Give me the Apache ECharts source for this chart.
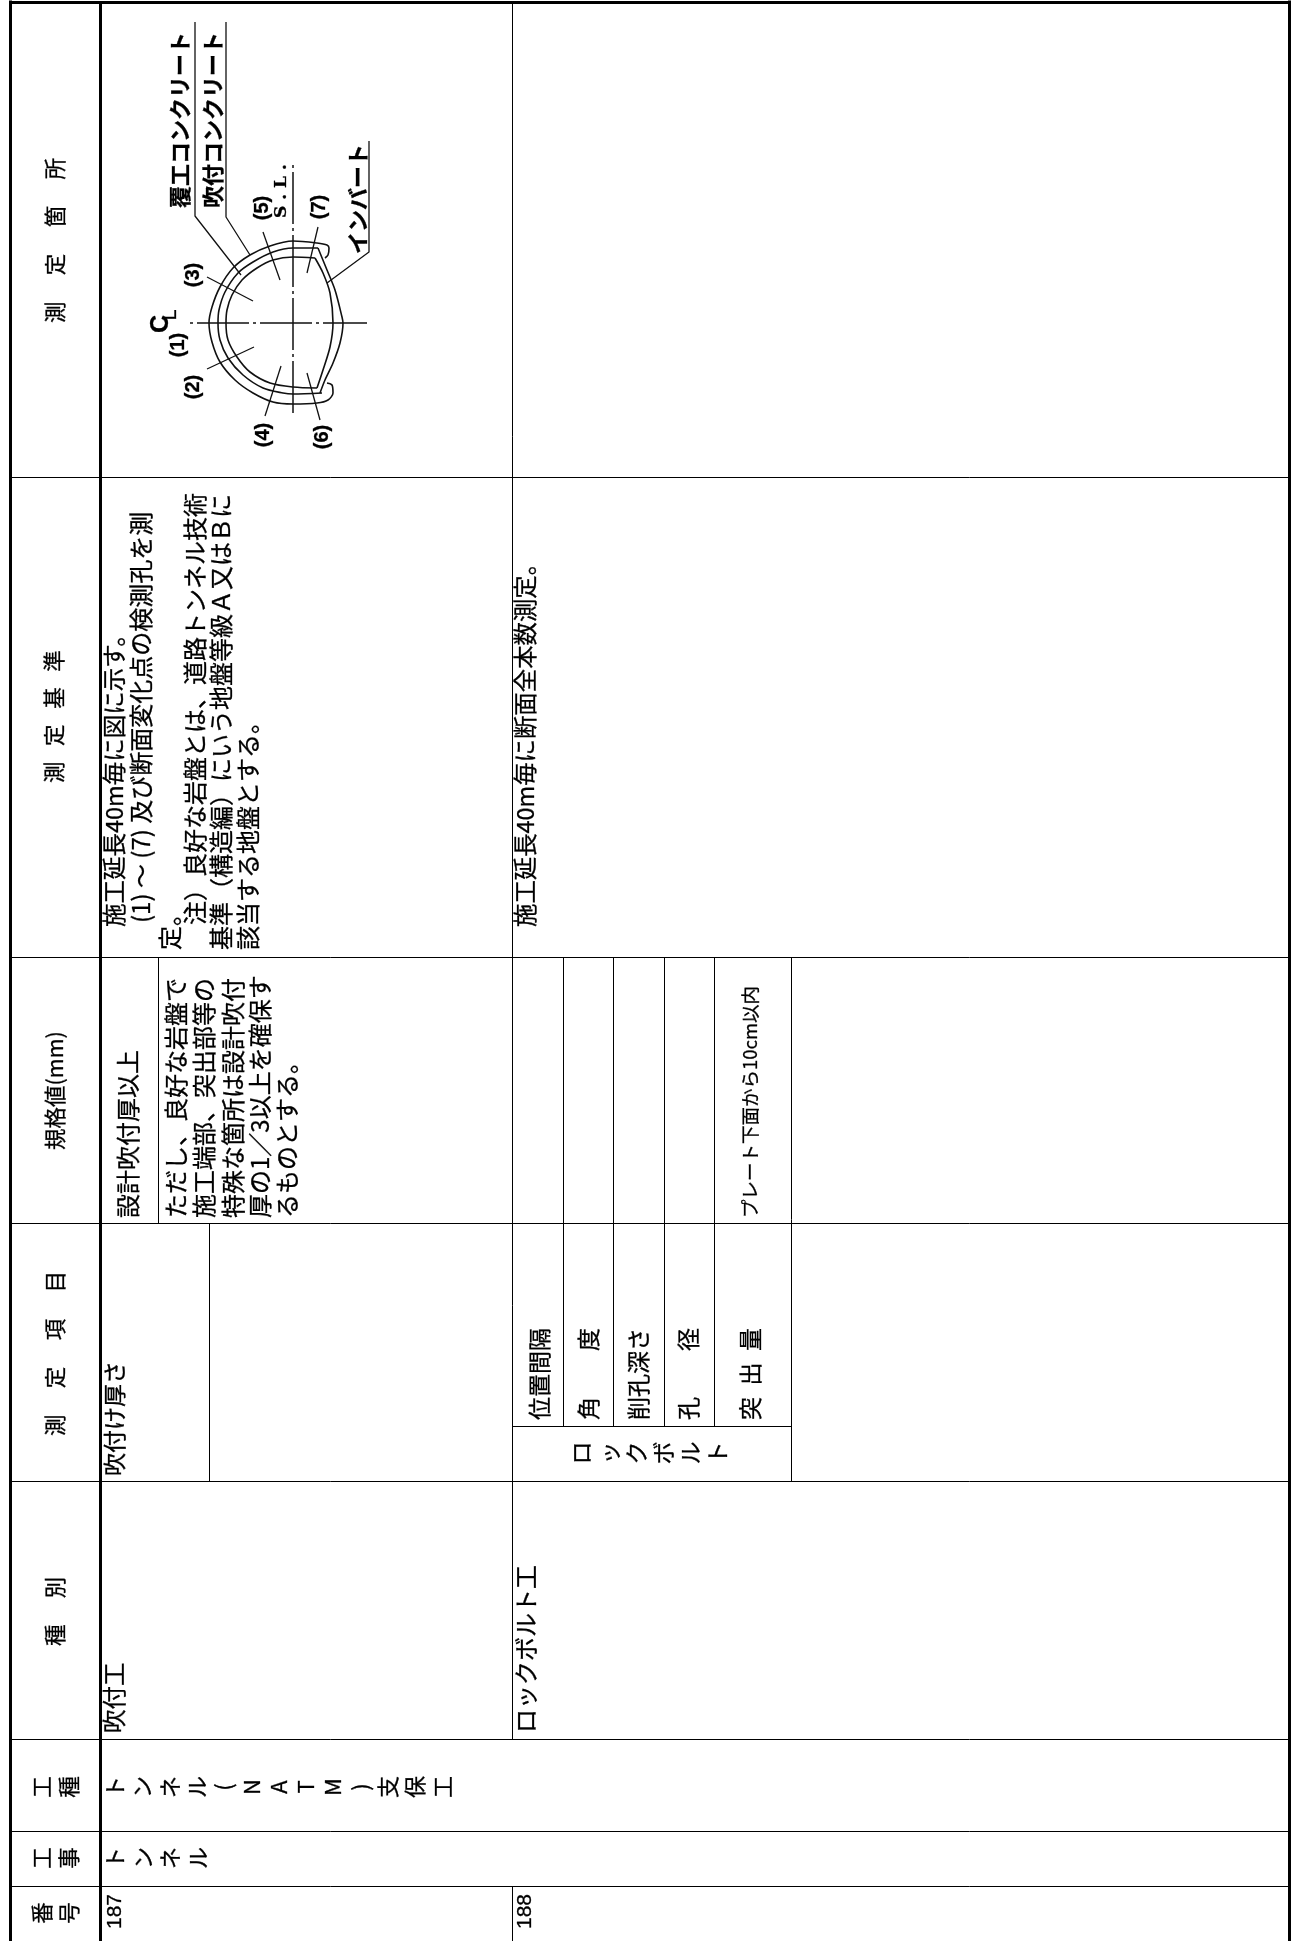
<!DOCTYPE html>
<html>
<head>
<meta charset="utf-8">
<style>
  html, body { margin: 0; padding: 0; background: #fff; }
  #main { width: 1295px; height: 1941px; }
</style>
<script src="https://cdn.jsdelivr.net/npm/echarts@6/dist/echarts.min.js"></script>
</head>
<body>
<div id="main"></div>
<script>
// cell texts, read bottom to top on the rotated sheet
const headerText = ["測　 定　 箇　 所", "測\u2002 定\u2002 基\u2002 準", "規格値(mm)", "測　 定　 項　 目", "種　 別"];
const stackedHeaderText = ["工\n種", "工\n事", "番\n号"];
const serialText = ["187", "188"];
const workText = ["ト\nン\nネ\nル", "ト\nン\nネ\nル\n(\nN\nA\nT\nM\n)\n支\n保\n工"];
const kindText = ["吹付工", "ロックボルト工"];
const itemText = ["吹付け厚さ", "位置間隔", "角　　度", "削孔深さ", "孔　　径", "突\u2002出\u2002量"];
const boltText = "ロ\nッ\nク\nボ\nル\nト";
const limitText = [
  "設計吹付厚以上",
  "ただし、良好な岩盤で",
  "施工端部、突出部等の",
  "特殊な箇所は設計吹付",
  "厚の1／3以上を確保す",
  "るものとする。",
  "プレート下面から10cm以内"
];
const standardText = [
  "施工延長40m毎に図に示す。",
  "(1) ～ (7) 及び断面変化点の検測孔を測",
  "定。",
  "注）良好な岩盤とは、道路トンネル技術",
  "基準（構造編）にいう地盤等級Ａ又はＢに",
  "該当する地盤とする。",
  "施工延長40m毎に断面全本数測定。"
];
const figureText = ["覆工コンクリート", "吹付コンクリート", "インバート"];
const figureMarks = ["(1)", "(2)", "(3)", "(4)", "(5)", "(6)", "(7)"];

// sheet layout
const rowY = [2.5, 477, 957, 1223, 1481, 1739, 1831, 1886, 1941];
const colX = [10, 100.5, 512, 1289.5];
const subColX = [563, 613.5, 664, 714, 791];

// tunnel figure
const outerLining = [[325,258],[328,255],[329,248],[327,245],[317,243],[293,241],[270,246],[250,255],[233,268],[220,287],[212,307],[209,323],[212,342],[220,362],[235,380],[253,393],[273,402],[293,404],[317,403],[328,400],[333,393],[332,385],[327,383]];
const middleLining = [[318,248],[293,248],[273,252],[253,262],[238,273],[225,292],[219,310],[218,323],[220,340],[228,358],[243,375],[263,388],[283,393],[293,394],[322,393]];
const innerLining = [[315,258],[293,257],[273,260],[257,268],[242,280],[232,295],[227,310],[226,323],[228,340],[237,357],[250,372],[270,383],[293,387],[317,388]];
const invertOuter = [[318,248],[327,270],[335,290],[342,317],[343,323],[340,343],[333,363],[325,380],[320,393]];
const invertInner = [[315,258],[323,273],[330,293],[333,323],[330,347],[323,370],[317,388]];
const leaderLines = [
  [[195,22],[195,216],[241,275]],
  [[226,22],[226,217],[250,255]],
  [[369,141],[369,252],[327,283]],
  [[207,277],[253,301]],
  [[207,369],[254,347]],
  [[263,232],[280,280]],
  [[265,416],[281,366]],
  [[318,227],[307,273]],
  [[320,420],[307,373]]
];
const centerLineH = [[190,323],[367,323]];
const centerLineV = [[293,165],[293,415]];

function ruleSegments() {
  const segs = [];
  // outer frame and the thick header line
  segs.push([colX[0], 0, colX[0], 1941, 3]);
  segs.push([colX[3], 0, colX[3], 1941, 3]);
  segs.push([colX[1], rowY[0], colX[1], 1941, 3]);
  segs.push([colX[0], rowY[0], colX[3], rowY[0], 3]);
  rowY.slice(1, 8).forEach(y => segs.push([colX[0], y, colX[3], y, 1]));
  // the column split between 187 and 188
  segs.push([colX[2], rowY[0], colX[2], rowY[5], 1]);
  segs.push([colX[2], rowY[7], colX[2], rowY[8], 1]);
  // sub cells
  segs.push([158, rowY[2], 158, rowY[3], 1]);
  segs.push([209, rowY[3], 209, rowY[4], 1]);
  subColX.slice(0, 4).forEach(x => segs.push([x, rowY[2], x, 1426, 1]));
  segs.push([subColX[4], rowY[2], subColX[4], rowY[4], 1]);
  segs.push([colX[2], 1426, subColX[4], 1426, 1]);
  return segs;
}

const labels = [];
function put(text, x, y, size, extra) {
  labels.push(Object.assign({ text, x, y, size, align: "left", vAlign: "middle", weight: "normal", family: "Noto Sans CJK JP" }, extra));
}

[[55, 323], [54, 783], [55, 1150], [55, 1436], [55, 1646]].forEach((p, i) => put(headerText[i], p[0], p[1], 21.5));
[1787, 1858, 1913].forEach((y, i) => put(stackedHeaderText[i], 28.5, y, 21.5, { align: "center", vAlign: "top", lineHeight: 27 }));
put(serialText[0], 115, 1929, 21, { family: "Liberation Sans" });
put(serialText[1], 525, 1929, 21, { family: "Liberation Sans" });
put(workText[0], 101, 1858, 22, { align: "center", vAlign: "top", lineHeight: 27.5 });
put(workText[1], 101, 1787, 22, { align: "center", vAlign: "top", lineHeight: 27.3 });
put(kindText[0], 114, 1733, 23.5);
put(kindText[1], 526, 1733, 24);
[[114, 1476, 23], [539, 1420, 23], [588, 1420, 23], [638, 1420, 23], [688, 1420, 23], [750, 1420, 23]]
  .forEach((p, i) => put(itemText[i], p[0], p[1], p[2]));
put(boltText, 568, 1453, 23, { align: "center", vAlign: "top", lineHeight: 27.2 });
[[128, 1218, 24], [176, 1218, 24], [204, 1218, 24], [233, 1218, 24], [260, 1218, 24], [287, 1218, 24], [750, 1218, 18.5]]
  .forEach((p, i) => put(limitText[i], p[0], p[1], p[2]));
[[114, 927, 23.5], [141, 923, 24], [170, 950, 24], [195, 925, 24], [221, 950, 24], [248, 950, 24], [525, 927, 23.4]]
  .forEach((p, i) => put(standardText[i], p[0], p[1], p[2]));
put(figureText[0], 180, 208, 22, { weight: "bold" });
put(figureText[1], 213, 208, 22, { weight: "bold" });
put(figureText[2], 358, 254, 22, { weight: "bold" });
[[178, 345], [193, 387], [193, 275], [263, 435], [262, 208], [322, 437], [319, 207]]
  .forEach((p, i) => put(figureMarks[i], p[0], p[1], 20, { align: "center", weight: "bold", family: "Liberation Sans" }));
put("S . L .", 282, 218, 17, { weight: "bold", family: "DejaVu Serif" });
put("C", 161, 324, 25, { align: "center", family: "Liberation Sans", weight: "bold" });
put("L", 170, 315, 20, { align: "center", family: "Liberation Sans" });

function figureLine(points, extra) {
  return Object.assign({
    type: "line", data: points, showSymbol: false, silent: true, animation: false,
    lineStyle: { color: "#111", width: 1.6 }, z: 3
  }, extra);
}
const dashDot = { color: "#111", width: 1.5, type: [52, 4, 3, 4], dashOffset: 56 };

const chart = echarts.init(document.getElementById("main"));
chart.setOption({
  animation: false,
  grid: { left: 0, right: 0, top: 0, bottom: 0 },
  xAxis: { type: "value", min: 0, max: 1295, show: false },
  yAxis: { type: "value", min: 0, max: 1941, inverse: true, show: false },
  series: [
    {
      type: "custom", silent: true, clip: false, z: 2,
      data: ruleSegments(),
      encode: { x: [0, 2], y: [1, 3] },
      renderItem(params, api) {
        const a = api.coord([api.value(0), api.value(1)]);
        const b = api.coord([api.value(2), api.value(3)]);
        // keep the rules on whole pixels so they stay crisp black
        const snap = v => Math.floor(v) + 0.5;
        return {
          type: "line",
          shape: { x1: snap(a[0]), y1: snap(a[1]), x2: snap(b[0]), y2: snap(b[1]) },
          style: { stroke: "#000", lineWidth: api.value(4) }
        };
      }
    },
    figureLine(outerLining, { smooth: 0.3 }),
    figureLine(middleLining, { smooth: 0.3 }),
    figureLine(innerLining, { smooth: 0.3 }),
    figureLine(invertOuter, { smooth: 0.3 }),
    figureLine(invertInner, { smooth: 0.3 }),
    ...leaderLines.map(l => figureLine(l, { lineStyle: { color: "#111", width: 1.3 } })),
    figureLine(centerLineH, { lineStyle: dashDot }),
    figureLine(centerLineV, { lineStyle: dashDot }),
    {
      type: "custom", silent: true, clip: false, z: 4,
      data: labels.map((d, i) => [d.x, d.y, i]),
      encode: { x: 0, y: 1 },
      renderItem(params, api) {
        const d = labels[api.value(2)];
        const p = api.coord([api.value(0), api.value(1)]);
        return {
          type: "text",
          x: p[0], y: p[1], rotation: Math.PI / 2,
          style: {
            text: d.text, fill: "#000", stroke: "#000", lineWidth: 0.3,
            font: d.weight + " " + d.size + "px '" + d.family + "'",
            align: d.align, verticalAlign: d.vAlign,
            lineHeight: d.lineHeight
          }
        };
      }
    }
  ]
});
</script>
</body>
</html>
